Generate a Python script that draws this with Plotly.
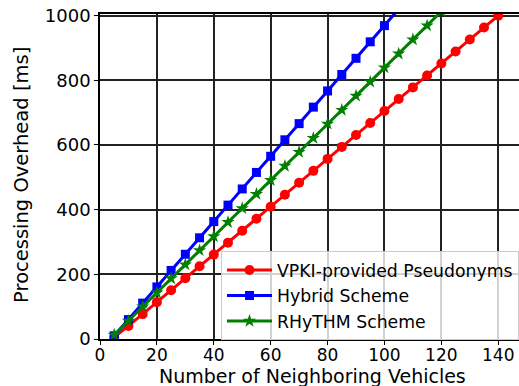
import plotly.graph_objects as go

vehicles = [5, 10, 15, 20, 25, 30, 35, 40, 45, 50, 55, 60, 65, 70, 75, 80, 85, 90, 95, 100,
            105, 110, 115, 120, 125, 130, 135, 140]
vpki = [5, 40, 77, 114, 151, 188, 225, 261, 298, 335, 372, 409, 446, 483, 520, 557, 594, 631,
        668, 705, 742, 778, 815, 852, 889, 926, 963, 1000]
hybrid_x = [5, 10, 15, 20, 25, 30, 35, 40, 45, 50, 55, 60, 65, 70, 75, 80, 85, 90, 95, 100, 105]
hybrid = [10, 60, 111, 161, 212, 262, 313, 363, 414, 464, 515, 565, 616, 666, 717, 767, 818,
          868, 919, 969, 1020]
rhythm_x = [5, 10, 15, 20, 25, 30, 35, 40, 45, 50, 55, 60, 65, 70, 75, 80, 85, 90, 95, 100,
            105, 110, 115, 120]
rhythm = [13, 56, 100, 143, 187, 230, 274, 317, 361, 404, 448, 491, 535, 578, 621, 665, 708,
          752, 795, 839, 882, 926, 969, 1013]

x_ticks = [0, 20, 40, 60, 80, 100, 120, 140]
y_ticks = [0, 200, 400, 600, 800, 1000]
x_title = "Number of Neighboring Vehicles"
y_title = "Processing Overhead [ms]"

FONT = "DejaVu Sans"

fig = go.Figure()
fig.add_trace(go.Scatter(x=vehicles, y=vpki, mode="lines+markers", name="VPKI-provided Pseudonyms",
                         line=dict(color="#ff0000", width=3),
                         marker=dict(symbol="circle", size=10, color="#ff0000")))
fig.add_trace(go.Scatter(x=hybrid_x, y=hybrid, mode="lines+markers", name="Hybrid Scheme",
                         line=dict(color="#0000ff", width=3),
                         marker=dict(symbol="square", size=9, color="#0000ff")))
fig.add_trace(go.Scatter(x=rhythm_x, y=rhythm, mode="lines+markers", name="RHyTHM Scheme",
                         line=dict(color="#007f00", width=3),
                         marker=dict(symbol="star", size=10, color="#007f00")))

fig.update_layout(
    width=519, height=386,
    margin=dict(l=100, r=0, t=14, b=47),
    paper_bgcolor="white", plot_bgcolor="white",
    font=dict(family=FONT, size=16, color="black"),
    showlegend=True,
    legend=dict(x=0.289, y=0.27, xanchor="left", yanchor="top",
                bgcolor="rgba(255,255,255,0.8)", bordercolor="#cccccc", borderwidth=1,
                font=dict(family=FONT, size=17.3, color="black"),
                tracegroupgap=0, itemwidth=45),
    annotations=[
        dict(text=x_title, xref="paper", yref="paper", x=0.508, y=0, xanchor="center",
             yanchor="top", yshift=-25, showarrow=False, borderpad=0,
             font=dict(family=FONT, size=19, color="black")),
        dict(text=y_title, xref="paper", yref="paper", x=0, y=0.505, xanchor="center",
             yanchor="middle", xshift=-78, textangle=-90, showarrow=False,
             font=dict(family=FONT, size=19.5, color="black")),
    ],
)
fig.update_xaxes(range=[0, 147.3], tickvals=x_ticks, ticktext=[str(v) for v in x_ticks],
                 showgrid=True, gridcolor="#222222", gridwidth=1.5,
                 showline=True, linecolor="black", linewidth=1.5, mirror=True,
                 ticks="outside", ticklen=4, tickcolor="black", ticklabelstandoff=-4,
                 tickfont=dict(family=FONT, size=17, color="black"),
                 zeroline=False)
fig.update_yaxes(range=[0, 1005], tickvals=y_ticks, ticktext=[str(v) for v in y_ticks],
                 showgrid=True, gridcolor="#222222", gridwidth=1.5,
                 showline=True, linecolor="black", linewidth=1.5, mirror=False,
                 ticks="outside", ticklen=4, tickcolor="black",
                 tickfont=dict(family=FONT, size=18, color="black"),
                 zeroline=False)

fig.write_html("out.html")
